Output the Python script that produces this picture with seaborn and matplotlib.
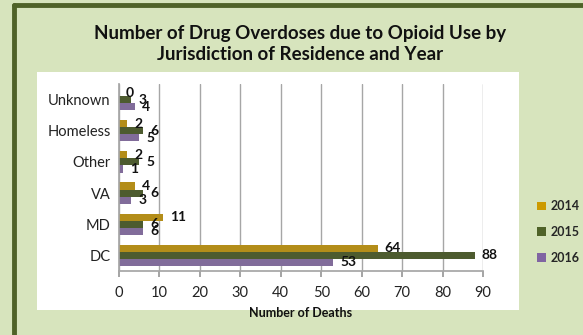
import matplotlib
matplotlib.use("Agg")
import matplotlib.pyplot as plt
import matplotlib.patches as mpatches
import seaborn as sns
import pandas as pd

categories = ["Unknown", "Homeless", "Other", "VA", "MD", "DC"]
years = ["2014", "2015", "2016"]
vals_2014 = [0, 2, 2, 4, 11, 64]
vals_2015 = [3, 6, 5, 6, 6, 88]
vals_2016 = [4, 5, 1, 3, 6, 53]
x_ticks = [0, 10, 20, 30, 40, 50, 60, 70, 80, 90]
colors = ["#CC9A00", "#4F6228", "#8064A2"]

rows = []
for y, vals in zip(years, [vals_2014, vals_2015, vals_2016]):
    for c, v in zip(categories, vals):
        rows.append({"Jurisdiction": c, "Year": y, "Deaths": v})
df = pd.DataFrame(rows)

sns.set_theme(style="white")
plt.rcParams["font.family"] = ["Lato", "DejaVu Sans"]

fig = plt.figure(figsize=(5.83, 3.35), dpi=100)
fig.patch.set_facecolor("#D7E4BD")

# outer frame (left & top visible)
fig.add_artist(plt.Line2D([14/583, 14/583], [0, 1 - 5/335], color="#4F6228", lw=3.5,
                          transform=fig.transFigure))
fig.add_artist(plt.Line2D([14/583, 1], [1 - 5/335, 1 - 5/335], color="#4F6228", lw=3.5,
                          transform=fig.transFigure))
# white plot panel
fig.add_artist(mpatches.Rectangle((37/583, 1 - 310/335), (519 - 37)/583, (310 - 72)/335,
                                  transform=fig.transFigure, facecolor="white",
                                  edgecolor="none", zorder=0))

ax = fig.add_axes([119/583, 1 - 271/335, (483 - 119)/583, (271 - 84)/335])
ax.set_facecolor("none")
sns.barplot(data=df, y="Jurisdiction", x="Deaths", hue="Year", order=categories,
            hue_order=years, palette=colors, orient="h", width=0.68, ax=ax,
            edgecolor="none", legend=False)

ax.set_xlim(0, 90)
ax.set_xticks(x_ticks)
ax.set_xticklabels([str(t) for t in x_ticks], fontsize=10.5, color="#222222")
ax.tick_params(axis="x", pad=7, length=4, color="#999999", bottom=True)
ax.tick_params(axis="y", length=0, pad=6, labelsize=10.5, labelcolor="#222222")
ax.grid(axis="x", color="#A6A6A6", lw=1)
ax.set_axisbelow(True)
for s in ["top", "right"]:
    ax.spines[s].set_visible(False)
ax.spines["left"].set_color("#A6A6A6")
ax.spines["bottom"].set_color("#A6A6A6")
ax.set_ylabel("")
ax.set_xlabel("Number of Deaths", fontsize=9, fontweight="bold", labelpad=5, color="#111111")

for cont in ax.containers:
    ax.bar_label(cont, fontsize=10, fontweight="bold", padding=5, color="#111111")

handles = [mpatches.Patch(facecolor=c, edgecolor="none", label=y) for c, y in zip(colors, years)]
fig.legend(handles=handles, loc="center left", bbox_to_anchor=(526/583, 1 - 232/335),
           frameon=False, prop={"weight": "bold", "size": 9}, handlelength=0.7,
           handleheight=0.7, handletextpad=0.4, labelspacing=1.1)

fig.text(300/583, 1 - 44/335, "Number of Drug Overdoses due to Opioid Use by\nJurisdiction of Residence and Year",
         ha="center", va="center", fontsize=13.5, fontweight="bold", color="#111111",
         linespacing=1.3)

fig.savefig("out.png", dpi=100, facecolor=fig.get_facecolor())
